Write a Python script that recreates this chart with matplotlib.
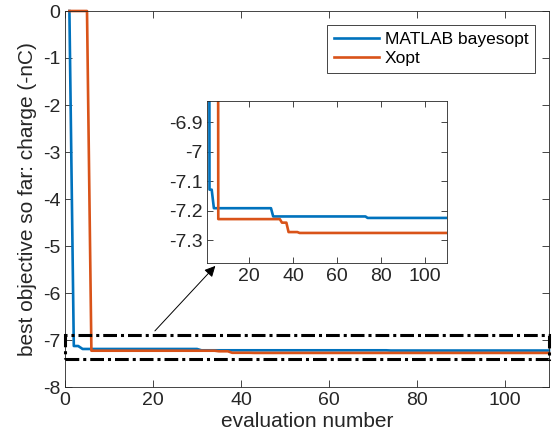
import matplotlib.pyplot as plt
import numpy as np
from matplotlib.patches import Rectangle

# evaluations at which a new best was found, and the best value from then on
n_evals = 110
bayes_iters = [1, 2, 4, 31, 74]
bayes_best = [0.0, -7.128, -7.191, -7.219, -7.224]
xopt_iters = [1, 6, 35, 38, 43]
xopt_best = [0.0, -7.228, -7.240, -7.272, -7.275]

x_ticks = [0, 20, 40, 60, 80, 100]
y_ticks = [0, -1, -2, -3, -4, -5, -6, -7, -8]
inset_xticks = [20, 40, 60, 80, 100]
inset_yticks = [-6.9, -7.0, -7.1, -7.2, -7.3]
inset_ylabels = ['-6.9', '-7', '-7.1', '-7.2', '-7.3']

blue = '#0072BD'
orange = '#D95319'
gray = '#262626'


def best_so_far(iters, best):
    # hold each best value until the next improvement
    evals = np.arange(1, n_evals + 1)
    idx = np.searchsorted(iters, evals, side='right') - 1
    return evals, np.array(best)[idx]


ev, bayes = best_so_far(bayes_iters, bayes_best)
_, xopt = best_so_far(xopt_iters, xopt_best)

plt.rcParams['font.family'] = ['Liberation Sans', 'DejaVu Sans']
plt.rcParams['axes.unicode_minus'] = False

fig = plt.figure(figsize=(5.52, 4.48), dpi=100)
ax = fig.add_axes([65/552, 1-387/448, 484/552, 376/448])

ax.plot(ev, bayes, color=blue, lw=1.9, label='MATLAB bayesopt', clip_on=False)
ax.plot(ev, xopt, color=orange, lw=1.9, label='Xopt', clip_on=False)
ax.set_xlim(0, 110)
ax.set_ylim(-8, 0)
ax.set_xticks(x_ticks)
ax.set_yticks(y_ticks)
ax.set_xlabel('evaluation number', fontsize=15, color=gray, labelpad=2)
ax.set_ylabel('best objective so far: charge (-nC)', fontsize=15, color=gray, labelpad=4)
ax.tick_params(direction='in', top=True, right=True, labelsize=14, colors=gray, length=5, width=0.6)
for s in ax.spines.values():
    s.set_color(gray)
    s.set_linewidth(0.6)

rect = Rectangle((0, -7.4), 110, 0.5, fill=False, ec='k', lw=2.2,
                 ls=(0, (4.5, 1.3, 1, 1.3)), clip_on=False, zorder=5)
ax.add_patch(rect)

ax.annotate('', xy=(34.6, -5.38), xytext=(20, -6.85),
            arrowprops=dict(arrowstyle='-|>', lw=0.7, color='k', mutation_scale=16))

leg = ax.legend(loc='upper right', fontsize=12.5, fancybox=False, framealpha=1,
                edgecolor=gray, handlelength=2.6, handletextpad=0.3,
                labelspacing=0.25, borderaxespad=0.8)
leg.get_frame().set_linewidth(0.6)

axi = fig.add_axes([207.3/552, 1-262.7/448, 239.4/552, 162/448])
axi.plot(ev, bayes, color=blue, lw=1.9)
axi.plot(ev, xopt, color=orange, lw=1.9)
axi.set_xlim(1, 110)
axi.set_ylim(-7.376, -6.826)
axi.set_xticks(inset_xticks)
axi.set_yticks(inset_yticks)
axi.set_yticklabels(inset_ylabels)
axi.tick_params(direction='in', top=True, right=True, labelsize=14, colors=gray, length=4, width=0.6)
for s in axi.spines.values():
    s.set_color(gray)
    s.set_linewidth(0.6)

fig.savefig('out.png', dpi=100)
